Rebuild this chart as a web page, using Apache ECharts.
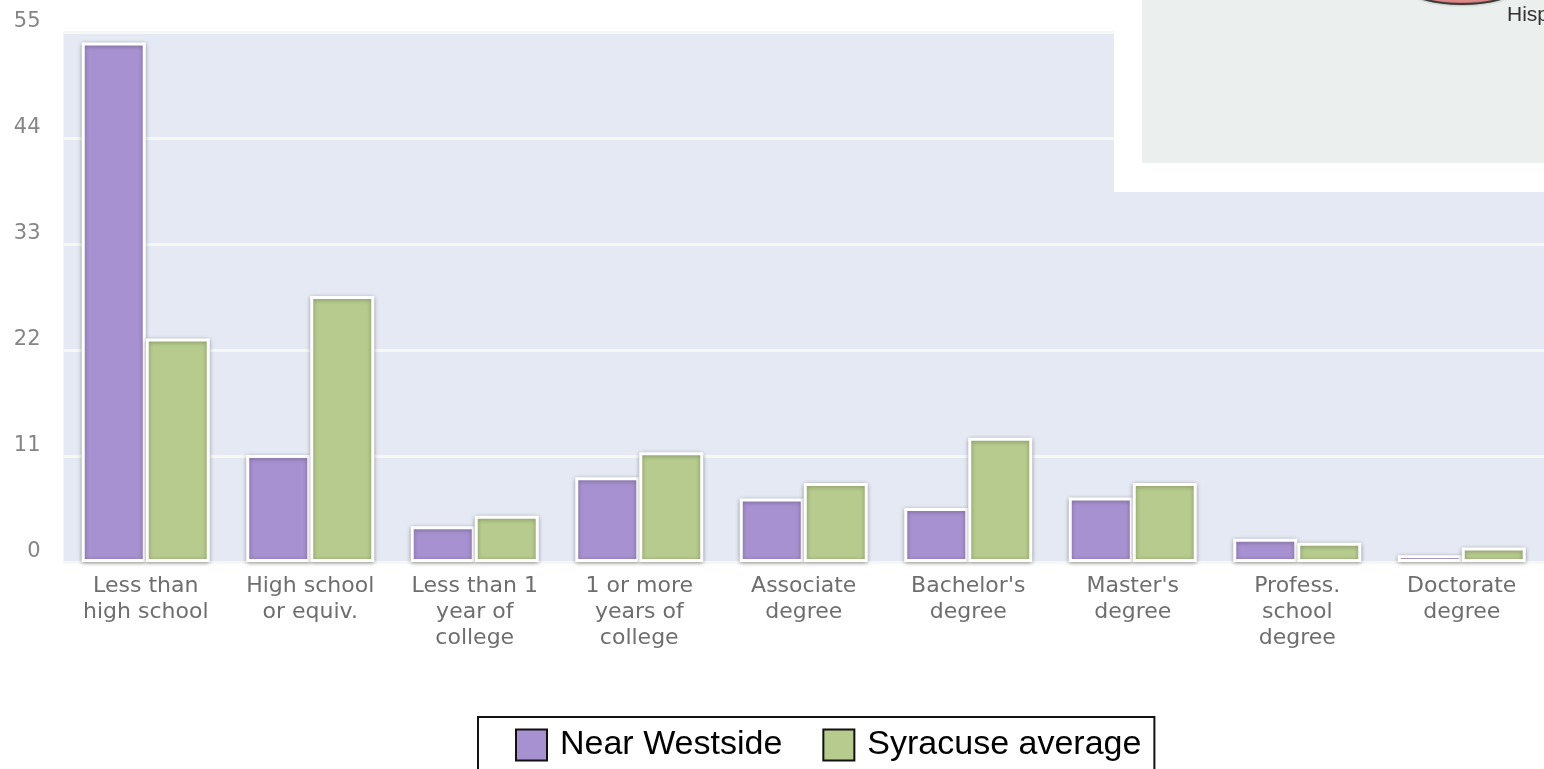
<!DOCTYPE html>
<html>
<head>
<meta charset="utf-8">
<script src="https://cdn.jsdelivr.net/npm/echarts@6/dist/echarts.min.js"></script>
<style>
html,body{margin:0;padding:0;background:#fff;}
#chart{width:1544px;height:769px;}
</style>
</head>
<body>
<div id="chart"></div>
<script>
const categories = [
  "Less than\nhigh school",
  "High school\nor equiv.",
  "Less than 1\nyear of\ncollege",
  "1 or more\nyears of\ncollege",
  "Associate\ndegree",
  "Bachelor's\ndegree",
  "Master's\ndegree",
  "Profess.\nschool\ndegree",
  "Doctorate\ndegree"
];
const seriesNames = ["Near Westside", "Syracuse average"];
const nearWestside = [53.9, 11.1, 3.7, 8.8, 6.6, 5.6, 6.7, 2.4, 0.7];
const syracuseAverage = [23.2, 27.6, 4.8, 11.4, 8.2, 12.9, 8.2, 2.0, 1.5];
const yTicks = [0, 11, 22, 33, 44, 55];

const chart = echarts.init(document.getElementById('chart'), null, {renderer: 'canvas'});

const barStyle = (color) => ({
  color: color,
  borderColor: '#ffffff',
  borderWidth: 3,
  shadowBlur: 4,
  shadowColor: 'rgba(0,0,0,0.3)',
  shadowOffsetX: 0,
  shadowOffsetY: 1
});

chart.setOption({
  animation: false,
  backgroundColor: '#ffffff',
  grid: {
    left: 63.5,
    top: 32,
    width: 1494.5,
    height: 530,
    show: true,
    backgroundColor: '#E5E9F3',
    borderWidth: 0,
    containLabel: false
  },
  xAxis: {
    type: 'category',
    data: categories,
    axisLine: {show: false},
    axisTick: {show: false},
    splitLine: {show: false},
    axisLabel: {
      interval: 0,
      margin: 11,
      color: '#6e6e6e',
      fontFamily: 'DejaVu Sans',
      fontSize: 22,
      lineHeight: 26,
      align: 'center'
    }
  },
  yAxis: {
    type: 'value',
    min: yTicks[0],
    max: yTicks[yTicks.length - 1],
    interval: yTicks[1] - yTicks[0],
    axisLine: {show: false},
    axisTick: {show: false},
    splitLine: {show: true, lineStyle: {color: '#F6F8F3', width: 3}},
    axisLabel: {
      margin: 23,
      color: '#858585',
      fontFamily: 'DejaVu Sans',
      fontSize: 21,
      verticalAlign: 'bottom',
      lineHeight: 20
    }
  },
  legend: {
    data: seriesNames,
    left: 478,
    top: 717,
    orient: 'horizontal',
    padding: [11, 13, 30, 37],
    itemGap: 40,
    itemWidth: 31,
    itemHeight: 31,
    icon: 'rect',
    borderColor: '#111',
    borderWidth: 2,
    backgroundColor: '#ffffff',
    itemStyle: {borderColor: '#111', borderWidth: 2, shadowBlur: 0, shadowColor: 'transparent'},
    textStyle: {
      color: '#000',
      fontFamily: 'Liberation Sans, Arial, sans-serif',
      fontSize: 34,
      padding: [0, 0, 0, 8]
    }
  },
  graphic: [
    {
      type: 'rect', z: 100,
      shape: {x: 1114, y: 0, width: 430, height: 192},
      style: {fill: '#ffffff'}
    },
    {
      type: 'rect', z: 101,
      shape: {x: 1142, y: 0, width: 402, height: 163},
      style: {fill: '#EBF0EF'}
    },
    {
      type: 'ellipse', z: 102,
      shape: {cx: 1462, cy: -11, rx: 52, ry: 15},
      style: {fill: '#E48C8C', stroke: '#3a3a3a', lineWidth: 2, shadowBlur: 3, shadowColor: 'rgba(0,0,0,0.3)'}
    },
    {
      type: 'text', z: 103,
      x: 1507, y: 5,
      style: {text: 'Hisp', fill: '#333', font: '21px "Liberation Sans", Arial, sans-serif'}
    }
  ],
  series: [
    {
      name: seriesNames[0],
      type: 'bar',
      data: nearWestside,
      barWidth: 64,
      barGap: '0%',
      itemStyle: barStyle('#A891D0')
    },
    {
      name: seriesNames[1],
      type: 'bar',
      data: syracuseAverage,
      barWidth: 64,
      barGap: '0%',
      itemStyle: barStyle('#B6CB8D')
    }
  ]
});
</script>
</body>
</html>
